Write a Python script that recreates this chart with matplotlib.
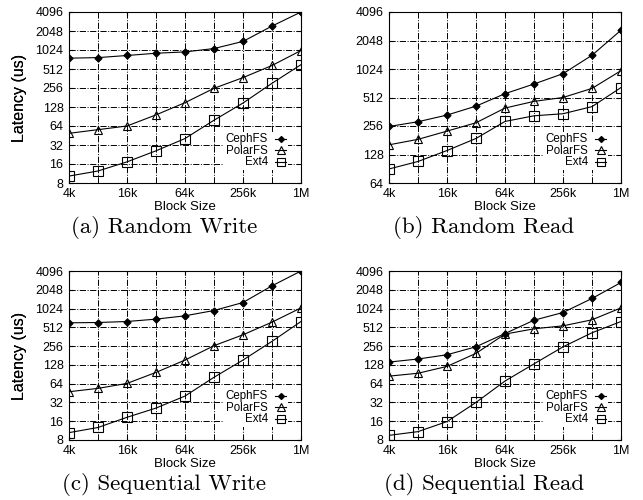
import numpy as np
import matplotlib.pyplot as plt

# block sizes in KB
sizes = [4, 8, 16, 32, 64, 128, 256, 512, 1024]
xtick_pos = [4, 16, 64, 256, 1024]
xtick_lab = ['4k', '16k', '64k', '256k', '1M']

# latency (us)
rw_ceph = [760, 776, 838, 910, 955, 1080, 1400, 2450, 4096]
rw_polar = [49, 56, 64, 96, 150, 253, 374, 582, 1005]
rw_ext4 = [10.3, 12.4, 17.3, 25.9, 40.5, 79, 148, 304, 600]

rr_ceph = [253, 284, 334, 415, 562, 711, 914, 1430, 2630]
rr_polar = [162, 185, 226, 277, 396, 466, 512, 639, 983]
rr_ext4 = [90, 108, 141, 189, 286, 328, 345, 410, 652]

sw_ceph = [605, 612, 635, 693, 783, 953, 1280, 2370, 4096]
sw_polar = [47.5, 53.8, 64.6, 97, 153, 260, 389, 620, 1050]
sw_ext4 = [10.5, 12.7, 18.5, 26, 40.5, 81, 153, 305, 635]

sr_ceph = [142, 159, 186, 250, 407, 666, 885, 1485, 2680]
sr_polar = [84.5, 94, 121, 196, 399, 485, 541, 676, 1050]
sr_ext4 = [9.5, 10.9, 15.8, 32, 70.5, 133, 249, 419, 635]

ylim_a = [8, 4096]
ylim_b = [64, 4096]

panels = [
    ('(a) Random Write', rw_ceph, rw_polar, rw_ext4, ylim_a),
    ('(b) Random Read', rr_ceph, rr_polar, rr_ext4, ylim_b),
    ('(c) Sequential Write', sw_ceph, sw_polar, sw_ext4, ylim_a),
    ('(d) Sequential Read', sr_ceph, sr_polar, sr_ext4, ylim_a),
]

W, H = 643, 500
fig = plt.figure(figsize=(W / 100, H / 100), dpi=100)
plt.rcParams['font.family'] = ['Liberation Sans', 'DejaVu Sans']

# axes boxes in pixels: left, top, right, bottom
boxes = [(69, 12, 301, 183), (389, 12, 621, 183),
         (69, 271, 301, 440), (389, 271, 621, 440)]

for (title, ceph, polar, ext4, ylim), (l, t, r, b) in zip(panels, boxes):
    w, h = r - l, b - t
    ax = fig.add_axes([l / W, 1 - b / H, w / W, h / H])
    ax.plot(sizes, ceph, '-', color='black', lw=0.8, marker='D', ms=3.5,
            mfc='black', label='CephFS')
    ax.plot(sizes, polar, '-', color='black', lw=0.8, marker='^', ms=6,
            mfc='none', mew=0.8, label='PolarFS')
    ax.plot(sizes, ext4, '-', color='black', lw=0.8, marker='s', ms=6.5,
            mfc='none', mew=0.8, label='Ext4')
    ax.set_xscale('log', base=2)
    ax.set_yscale('log', base=2)
    ax.set_xlim(4, 1024)
    ax.set_ylim(ylim)
    yt = [2 ** k for k in range(int(np.log2(ylim[0])), int(np.log2(ylim[1])) + 1)]
    ax.set_yticks(yt)
    ax.set_yticklabels([str(v) for v in yt])
    ax.set_xticks(xtick_pos)
    ax.set_xticklabels(xtick_lab)
    ax.minorticks_off()
    for v in sizes[1:-1]:
        ax.axvline(v, color='black', lw=0.7, ls='-.', zorder=0)
    for v in yt[1:-1]:
        ax.axhline(v, color='black', lw=0.7, ls='-.', zorder=0)
    ax.tick_params(direction='in', labelsize=9, top=True, right=True,
                   length=3)
    ax.tick_params(axis='x', pad=3.5)
    ax.tick_params(axis='y', pad=4)
    for s in ax.spines.values():
        s.set_linewidth(0.8)
    ax.set_ylabel('Latency (us)', fontsize=11.5)
    ax.yaxis.set_label_coords((27 - l) / w, 0.5)
    ax.set_xlabel('Block Size', fontsize=9.5)
    ax.xaxis.set_label_coords(0.5, -18 / h)
    leg = ax.legend(loc='lower right', frameon=True, markerfirst=False,
                    fontsize=8.3, handlelength=1.0, handletextpad=0.6,
                    labelspacing=-0.05, borderaxespad=0, borderpad=0.15,
                    markerscale=0.85, handleheight=0.5, fancybox=False,
                    facecolor='white', edgecolor='none', framealpha=1,
                    bbox_to_anchor=(1 - 13 / w, 13 / h))
    fig.text((l + w / 2 - 21) / W, 1 - (b + 50) / H, title, family='cmr10',
             fontsize=16.5, ha='center', va='baseline')

fig.savefig('out.png', dpi=100)
